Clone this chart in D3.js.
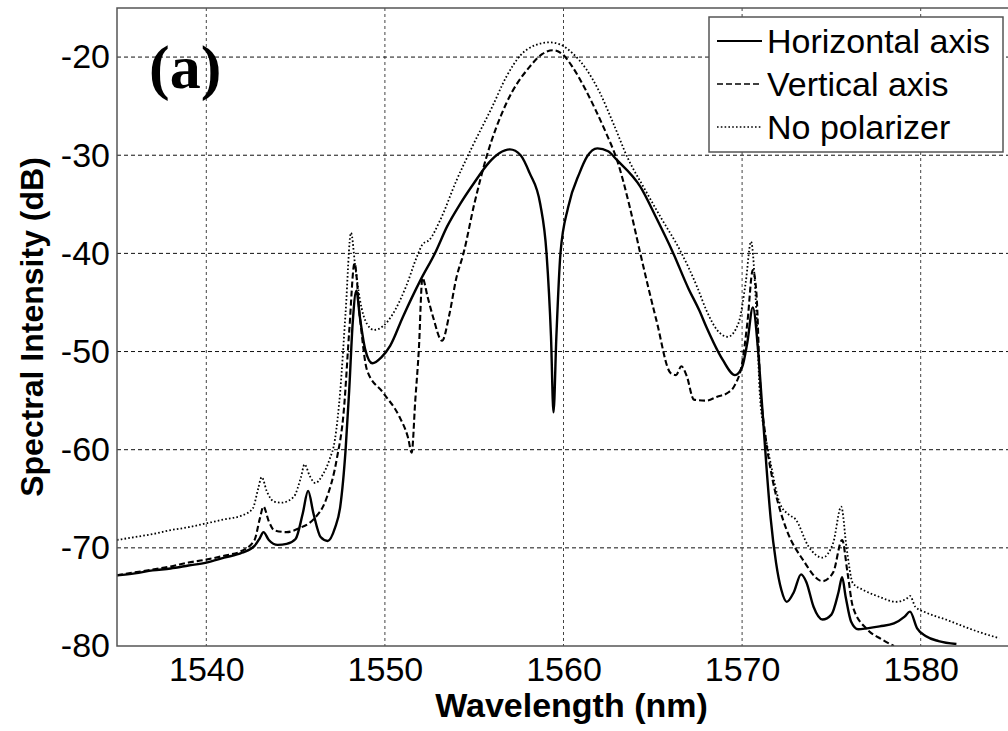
<!DOCTYPE html>
<html>
<head>
<meta charset="utf-8">
<script src="https://cdn.jsdelivr.net/npm/d3@7"></script>
<style>
	body { margin: 0; background: #fff; }
	#container { width: 1008px; height: 731px; }
</style>
</head>
<body>
<div id="container"></div>
<script>

// tick labels
var xTicks = [1540, 1550, 1560, 1570, 1580];
var yTicks = [-20, -30, -40, -50, -60, -70, -80];
var legendNames = ["Horizontal axis", "Vertical axis", "No polarizer"];

// Horizontal axis (solid)
var wlH = [1535, 1536, 1537, 1538, 1539, 1540, 1541, 1542, 1542.7, 1543.0, 1543.2, 1543.5, 1544.0, 1544.5, 1545.0,
	1545.4, 1545.7, 1546.0, 1546.4, 1546.8, 1547.2, 1547.5, 1547.8, 1548.0, 1548.2, 1548.4, 1548.6, 1548.9, 1549.3,
	1549.8, 1550.3, 1551.0, 1552.0, 1552.8, 1553.5, 1554.2, 1555.0, 1555.8, 1556.4, 1557.0, 1557.6, 1558.1, 1558.7,
	1559.05, 1559.3, 1559.44, 1559.6, 1559.83, 1560.26, 1560.9, 1561.3, 1561.9, 1562.5, 1563.0, 1564.3, 1565.2,
	1566.1, 1567.0, 1567.6, 1568.0, 1568.9, 1569.6, 1570.0, 1570.3, 1570.6, 1570.9, 1571.1, 1571.35, 1571.6, 1571.9,
	1572.2, 1572.5, 1572.9, 1573.3, 1573.6, 1574.0, 1574.5, 1575.0, 1575.4, 1575.6, 1575.8, 1576.1, 1576.5, 1577.0,
	1577.7, 1578.5, 1579.1, 1579.4, 1579.8, 1580.3, 1581.0, 1582.0];
var dbH = [-72.8, -72.6, -72.3, -72.1, -71.8, -71.5, -71.0, -70.5, -69.8, -69.0, -68.4, -69.2, -69.7, -69.6, -69.1,
	-66.5, -64.2, -66.5, -68.9, -69.3, -68.0, -65.8, -60.0, -54.0, -47.0, -43.8, -46.5, -49.8, -51.2,
	-50.6, -49.4, -46.5, -42.7, -40.0, -37.2, -35.0, -32.8, -30.8, -29.8, -29.4, -30.0, -31.8, -35.0,
	-40.0, -48.5, -56.2, -48.5, -40.0, -35.3, -31.8, -30.2, -29.3, -29.6, -30.5, -33.2, -36.4,
	-39.8, -43.6, -45.8, -47.5, -50.8, -52.4, -51.6, -49.0, -45.5, -50.0, -55.0, -61.4, -67.0, -71.5,
	-74.3, -75.5, -74.5, -72.7, -73.5, -76.0, -77.3, -76.8, -74.5, -73.0, -75.0, -77.5, -78.3, -78.2,
	-78.0, -77.7, -77.0, -76.5, -78.2, -79.0, -79.5, -79.8];

// Vertical axis (dashed)
var wlV = [1535, 1536, 1537, 1538, 1539, 1540, 1541, 1542, 1542.7, 1543.0, 1543.2, 1543.5, 1543.8, 1544.5, 1545.2,
	1546.0, 1546.7, 1547.3, 1547.7, 1548.0, 1548.3, 1548.6, 1549.0, 1549.9, 1550.8, 1551.3, 1551.5, 1551.7, 1551.9,
	1552.1, 1552.4, 1552.7, 1553.2, 1553.6, 1554.0, 1554.4, 1555.0, 1555.7, 1556.8, 1558.1, 1558.8, 1559.4, 1560.0,
	1560.5, 1561.2, 1561.8, 1562.4, 1563.0, 1563.7, 1564.3, 1565.2, 1566.0, 1566.3, 1566.6, 1566.9, 1567.3, 1568.0,
	1568.6, 1569.2, 1569.6, 1570.0, 1570.3, 1570.6, 1570.8, 1571.0, 1571.3, 1571.7, 1572.1, 1572.5, 1573.4, 1574.5,
	1575.1, 1575.6, 1575.9, 1576.2, 1577.0, 1577.8, 1578.5];
var dbV = [-72.8, -72.5, -72.2, -71.9, -71.5, -71.2, -70.8, -70.3, -69.2, -67.0, -65.8, -67.3, -68.2, -68.4, -68.0,
	-67.1, -65.1, -61.0, -56.0, -48.0, -41.0, -46.5, -51.9, -54.2, -56.6, -58.8, -60.3, -55.0, -49.8,
	-42.5, -44.5, -46.5, -48.9, -46.3, -42.5, -40.0, -35.0, -30.1, -24.7, -21.0, -19.7, -19.3, -19.8,
	-21.0, -23.2, -25.4, -27.8, -30.5, -35.2, -40.0, -46.8, -52.2, -52.4, -51.5, -52.5, -54.9, -55.0,
	-54.6, -54.2, -53.4, -51.2, -47.0, -41.7, -44.0, -52.9, -58.5, -63.0, -66.0, -68.2, -71.2, -73.4,
	-72.5, -69.2, -72.5, -76.0, -78.3, -79.3, -80.0];

// No polarizer (dotted)
var wlN = [1535, 1536, 1537, 1538, 1539, 1540, 1541, 1542, 1542.6, 1542.9, 1543.1, 1543.4, 1543.8, 1544.2, 1544.9,
	1545.3, 1545.5, 1545.8, 1546.1, 1546.5, 1546.9, 1547.2, 1547.5, 1547.8, 1548.1, 1548.35, 1548.6, 1549.0, 1549.4,
	1549.9, 1550.4, 1551.2, 1551.8, 1552.1, 1552.5, 1553.1, 1554.0, 1554.9, 1556.0, 1556.8, 1557.6, 1558.4, 1559.2,
	1559.8, 1560.5, 1561.3, 1562.0, 1562.8, 1563.6, 1564.5, 1565.5, 1566.5, 1567.5, 1568.0, 1568.6, 1569.2, 1569.8,
	1570.2, 1570.5, 1570.8, 1571.0, 1571.3, 1571.6, 1572.1, 1572.6, 1573.0, 1573.7, 1574.5, 1575.1, 1575.55, 1575.85,
	1576.2, 1576.8, 1577.7, 1578.6, 1579.2, 1579.4, 1579.7, 1580.3, 1581.4, 1582.4, 1583.3, 1584.4];
var dbN = [-69.2, -68.9, -68.6, -68.2, -67.9, -67.5, -67.1, -66.7, -66.0, -64.0, -62.8, -64.3, -65.3, -65.4, -64.8,
	-62.8, -61.5, -62.7, -63.4, -62.6, -61.0, -59.0, -54.0, -46.0, -37.9, -41.5, -44.7, -47.2, -47.8,
	-47.4, -46.3, -43.3, -40.3, -39.1, -38.6, -36.6, -32.6, -29.1, -25.1, -22.0, -19.8, -18.8, -18.5,
	-18.7, -19.6, -21.3, -23.5, -26.8, -30.3, -33.3, -36.5, -39.6, -43.5, -45.8, -47.8, -48.5, -47.1,
	-43.0, -38.8, -46.0, -54.6, -58.5, -61.4, -65.4, -66.6, -67.1, -69.8, -71.0, -69.5, -65.8, -70.0,
	-73.6, -74.3, -75.0, -75.5, -75.2, -74.9, -76.0, -76.6, -77.3, -78.0, -78.6, -79.2];

var sans = "'Liberation Sans', Arial, sans-serif";
var serif = "'Liberation Serif', 'Times New Roman', serif";

function init() {
	var series = [
		{ name: legendNames[0], wl: wlH, db: dbH, width: 2.4, dash: null },
		{ name: legendNames[1], wl: wlV, db: dbV, width: 2.1, dash: "6,3" },
		{ name: legendNames[2], wl: wlN, db: dbN, width: 1.8, dash: "1.6,2.2" }
	];
	render(series);
}

function render(series) {
	var width = 1008;
	var height = 731;
	var margin = { left: 117, top: 8, right: -2, bottom: 85 };
	var cWidth = width - margin.left - margin.right;
	var cHeight = height - margin.top - margin.bottom;

	var svg = d3.select("#container")
		.append("svg")
		.attr("width", width)
		.attr("height", height);

	var x = d3.scaleLinear().domain([1535, 1585]).range([0, cWidth]);
	var y = d3.scaleLinear().domain([-80, -15]).range([cHeight, 0]);

	var g = svg.append("g")
		.attr("transform", "translate(" + margin.left + "," + margin.top + ")");

	svg.append("defs").append("clipPath").attr("id", "plotclip")
		.append("rect")
		.attr("x", 0).attr("y", -1)
		.attr("width", cWidth).attr("height", cHeight + 1);

	// grid
	g.selectAll(".vgrid")
		.data(xTicks)
		.enter()
		.append("line")
		.attr("class", "vgrid")
		.attr("x1", d => x(d)).attr("x2", d => x(d))
		.attr("y1", 0).attr("y2", cHeight)
		.attr("stroke", "#444")
		.attr("stroke-width", 1)
		.attr("stroke-dasharray", "3,3");

	g.selectAll(".hgrid")
		.data(yTicks.filter(d => d > -80))
		.enter()
		.append("line")
		.attr("class", "hgrid")
		.attr("x1", 0).attr("x2", cWidth)
		.attr("y1", d => y(d)).attr("y2", d => y(d))
		.attr("stroke", "#111")
		.attr("stroke-width", 1)
		.attr("stroke-dasharray", "4,3");

	// axes
	var xAxis = g.append("g")
		.attr("transform", "translate(0," + cHeight + ")")
		.call(d3.axisBottom(x).tickValues(xTicks).tickSize(0).tickPadding(11).tickFormat(d => String(d)));
	xAxis.select(".domain").remove();
	xAxis.selectAll("text")
		.attr("font-size", 34)
		.attr("font-family", sans)
		.attr("fill", "#000");

	var yAxis = g.append("g")
		.call(d3.axisLeft(y).tickValues(yTicks).tickSize(0).tickPadding(7).tickFormat(d => String(d)));
	yAxis.select(".domain").remove();
	yAxis.selectAll("text")
		.attr("font-size", 34)
		.attr("font-family", sans)
		.attr("fill", "#000");

	// curves
	var line = d3.line()
		.x(d => x(d[0]))
		.y(d => y(d[1]))
		.curve(d3.curveMonotoneX);

	var plot = g.append("g").attr("clip-path", "url(#plotclip)");
	plot.selectAll(".curve")
		.data(series)
		.enter()
		.append("path")
		.attr("class", "curve")
		.attr("d", s => line(s.wl.map((w, i) => [w, s.db[i]])))
		.attr("fill", "none")
		.attr("stroke", "#000")
		.attr("stroke-width", s => s.width)
		.attr("stroke-linejoin", "round")
		.attr("stroke-dasharray", s => s.dash);

	// frame
	g.append("rect")
		.attr("x", 0).attr("y", 0)
		.attr("width", cWidth).attr("height", cHeight)
		.attr("fill", "none")
		.attr("stroke", "#555")
		.attr("stroke-width", 1.5);

	// axis labels
	svg.append("text")
		.attr("x", margin.left + (1008 - margin.left) / 2 + 9)
		.attr("y", 717)
		.attr("text-anchor", "middle")
		.attr("font-family", sans)
		.attr("font-size", 34)
		.attr("font-weight", "bold")
		.text("Wavelength (nm)");

	svg.append("text")
		.attr("transform", "translate(43," + 327 + ") rotate(-90)")
		.attr("text-anchor", "middle")
		.attr("font-family", sans)
		.attr("font-size", 32)
		.attr("font-weight", "bold")
		.text("Spectral Intensity (dB)");

	svg.append("text")
		.attr("x", 149)
		.attr("y", 88)
		.attr("font-family", serif)
		.attr("font-size", 62)
		.attr("font-weight", "bold")
		.text("(a)");

	// legend
	var leg = svg.append("g").attr("transform", "translate(709,17)");
	leg.append("rect")
		.attr("width", 294).attr("height", 135)
		.attr("fill", "#fff")
		.attr("stroke", "#555")
		.attr("stroke-width", 1.5);

	var rows = leg.selectAll(".legrow")
		.data(series)
		.enter()
		.append("g")
		.attr("class", "legrow")
		.attr("transform", (d, i) => "translate(0," + (24 + i * 43) + ")");

	rows.append("line")
		.attr("x1", 8).attr("x2", 53)
		.attr("y1", 0).attr("y2", 0)
		.attr("stroke", "#000")
		.attr("stroke-width", s => s.width * 0.75)
		.attr("stroke-dasharray", s => s.dash);

	rows.append("text")
		.attr("x", 58)
		.attr("y", 12)
		.attr("font-family", sans)
		.attr("font-size", 34)
		.text(s => s.name);
}

init();
</script>
</body>
</html>
